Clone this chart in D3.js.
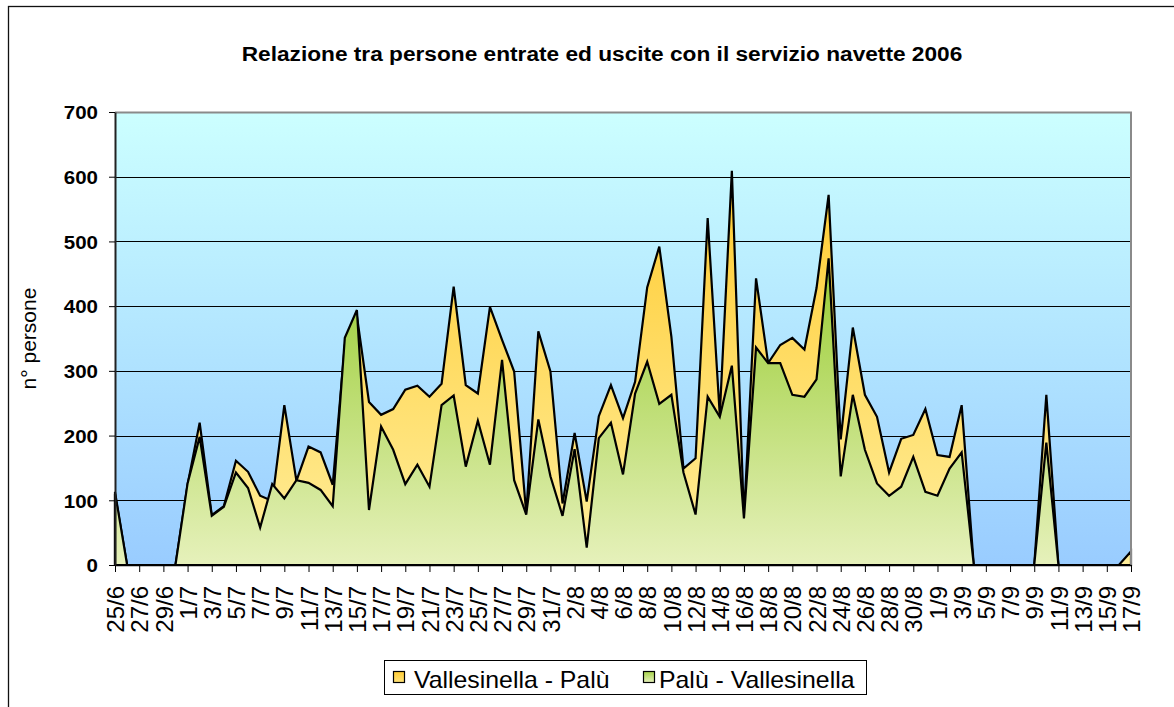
<!DOCTYPE html>
<html>
<head>
<meta charset="utf-8">
<script src="https://cdn.jsdelivr.net/npm/d3@7"></script>
<style>
  body { margin: 0; background: #fff; }
  text { font-family: "Liberation Sans", Arial, sans-serif; fill: #000; }
</style>
</head>
<body>
<div id="chart"></div>
<script>
/** DATA */
const dates = [
  "25/6","26/6","27/6","28/6","29/6","30/6",
  "1/7","2/7","3/7","4/7","5/7","6/7","7/7","8/7","9/7","10/7","11/7","12/7","13/7","14/7","15/7","16/7",
  "17/7","18/7","19/7","20/7","21/7","22/7","23/7","24/7","25/7","26/7","27/7","28/7","29/7","30/7","31/7",
  "1/8","2/8","3/8","4/8","5/8","6/8","7/8","8/8","9/8","10/8","11/8","12/8","13/8","14/8","15/8","16/8",
  "17/8","18/8","19/8","20/8","21/8","22/8","23/8","24/8","25/8","26/8","27/8","28/8","29/8","30/8","31/8",
  "1/9","2/9","3/9","4/9","5/9","6/9","7/9","8/9","9/9","10/9","11/9","12/9","13/9","14/9","15/9","16/9","17/9"
];

// Vallesinella - Palù (yellow, drawn first)
const vallesinellaPalu = [
  110, 0, 0, 0, 0, 0,
  124, 220, 77, 91, 161, 144, 107, 99, 247, 130, 183, 174, 124, 340, 385, 252,
  232, 241, 271, 277, 260, 280, 430, 278, 265, 399, 348, 299, 80, 361, 299,
  95, 204, 98, 230, 278, 227, 283, 429, 492, 353, 149, 165, 536, 232, 609, 72,
  443, 312, 340, 351, 333, 428, 572, 194, 367, 263, 229, 143, 195, 201, 241,
  170, 167, 247, 0, 0, 0, 0, 0, 0, 263, 0, 0, 0, 0, 0, 0, 21
];

// Palù - Vallesinella (green, drawn on top)
const paluVallesinella = [
  113, 0, 0, 0, 0, 0,
  126, 198, 76, 90, 143, 119, 58, 125, 103, 131, 127, 116, 91, 351, 394, 85,
  214, 178, 125, 155, 121, 247, 262, 152, 223, 155, 317, 131, 78, 225, 137,
  76, 179, 27, 196, 220, 140, 265, 314, 249, 263, 143, 78, 260, 229, 308, 72,
  336, 312, 312, 263, 260, 287, 474, 137, 263, 178, 126, 107, 121, 167, 113,
  107, 149, 174, 0, 0, 0, 0, 0, 0, 189, 0, 0, 0, 0, 0, 0, 0
];

const yTicks = [0, 100, 200, 300, 400, 500, 600, 700];
const seriesNames = ["Vallesinella - Palù", "Palù - Vallesinella"];

/** CONSTANTS */
const width = 1174,
  height = 707,
  margin = { top: 112, bottom: 142, left: 115, right: 43 },
  stretch = 1.08; // the picture is a bit wider than tall

const svg = d3.select("#chart")
  .append("svg")
  .attr("width", width)
  .attr("height", height);

/** SCALES */
const xScale = d3.scalePoint()
  .domain(dates)
  .range([margin.left, width - margin.right]);

const yScale = d3.scaleLinear()
  .domain([0, 700])
  .range([height - margin.bottom, margin.top]);

/** GRADIENTS */
const defs = svg.append("defs");

function gradient(id, x1, y1, x2, y2, stops, units) {
  const g = defs.append("linearGradient")
    .attr("id", id)
    .attr("x1", x1).attr("y1", y1).attr("x2", x2).attr("y2", y2);
  if (units) g.attr("gradientUnits", units);
  stops.forEach(s => g.append("stop").attr("offset", s[0]).attr("stop-color", s[1]));
}

gradient("bg", 0, 0, 0, 1, [[0, "#ccffff"], [1, "#99ccff"]]);
gradient("yellowFill", 0, yScale(d3.max(vallesinellaPalu)), 0, yScale(0),
  [[0, "#ffcb30"], [1, "#ffee9c"]], "userSpaceOnUse");
gradient("greenFill", 0, yScale(d3.max(paluVallesinella)), 0, yScale(0),
  [[0, "#99cc33"], [1, "#e6f1bb"]], "userSpaceOnUse");
gradient("yellowKey", 0, 0, 0, 1, [[0, "#ffcc33"], [1, "#ffe27a"]]);
gradient("greenKey", 0, 0, 0, 1, [[0, "#a6d24a"], [1, "#e6f1bb"]]);

// outer chart frame (runs off the right and bottom edges)
svg.append("rect")
  .attr("x", 8.5).attr("y", 6.5)
  .attr("width", 1300).attr("height", 900)
  .attr("fill", "none")
  .attr("stroke", "#111")
  .attr("stroke-width", 1.3);

/** PLOT AREA */
svg.append("rect")
  .attr("x", margin.left)
  .attr("y", margin.top)
  .attr("width", width - margin.right - margin.left)
  .attr("height", height - margin.bottom - margin.top)
  .attr("fill", "url(#bg)");

// gridlines
svg.append("g")
  .selectAll("line")
  .data(yTicks.filter(d => d > 0 && d < 700))
  .join("line")
  .attr("x1", margin.left)
  .attr("x2", width - margin.right)
  .attr("y1", d => Math.round(yScale(d)) + 0.5)
  .attr("y2", d => Math.round(yScale(d)) + 0.5)
  .attr("stroke", "#000")
  .attr("stroke-width", 1);

// areas: yellow first, green drawn over it
const area = d3.area()
  .x((d, i) => xScale(dates[i]))
  .y0(yScale(0))
  .y1(d => yScale(d));

svg.append("path")
  .datum(vallesinellaPalu)
  .attr("d", area)
  .attr("fill", "url(#yellowFill)")
  .attr("stroke", "#000")
  .attr("stroke-width", 2.2)
  .attr("stroke-linejoin", "miter");

svg.append("path")
  .datum(paluVallesinella)
  .attr("d", area)
  .attr("fill", "url(#greenFill)")
  .attr("stroke", "#000")
  .attr("stroke-width", 2.2)
  .attr("stroke-linejoin", "miter");

// top and right border of plot area
svg.append("path")
  .attr("d", `M${margin.left},${margin.top + 0.5}H${width - margin.right}V${height - margin.bottom}`)
  .attr("fill", "none")
  .attr("stroke", "#8a8a8a")
  .attr("stroke-width", 2);

/** AXES */
const xAxis = d3.axisBottom(xScale)
  .tickValues(dates.filter((d, i) => i % 2 === 0))
  .tickSize(7)
  .tickSizeOuter(0);

const gx = svg.append("g")
  .attr("transform", `translate(0,${height - margin.bottom})`)
  .call(xAxis);

gx.select(".domain").attr("stroke", "#000").attr("stroke-width", 1.5);
gx.selectAll(".tick line").attr("stroke", "#000");
gx.selectAll(".tick text")
  .attr("transform", "rotate(-90)")
  .attr("x", -21)
  .attr("y", 0)
  .attr("dy", "0.36em")
  .attr("text-anchor", "end")
  .style("font-size", "24px")
  .style("font-family", "'Liberation Sans', Arial, sans-serif");

const yAxis = d3.axisLeft(yScale)
  .tickValues(yTicks)
  .tickSize(6)
  .tickSizeOuter(0)
  .tickPadding(0);

const gy = svg.append("g")
  .attr("transform", `translate(${margin.left},0)`)
  .call(yAxis);

gy.select(".domain").attr("stroke", "#222").attr("stroke-width", 2);
gy.selectAll(".tick line").attr("stroke", "#000");
gy.selectAll(".tick text")
  .attr("x", 0)
  .attr("dy", "0.36em")
  .attr("transform", `translate(-17,0) scale(${stretch},1)`)
  .attr("text-anchor", "end")
  .style("font-size", "19px")
  .style("font-weight", "bold")
  .style("font-family", "'Liberation Sans', Arial, sans-serif");

// axis title
svg.append("text")
  .attr("transform", `translate(36,${(margin.top + height - margin.bottom) / 2}) rotate(-90)`)
  .attr("text-anchor", "middle")
  .style("font-size", "21px")
  .text("n° persone");

/** TITLE */
svg.append("text")
  .attr("transform", `translate(602,61) scale(${stretch},1)`)
  .attr("text-anchor", "middle")
  .style("font-size", "21px")
  .style("font-weight", "bold")
  .text("Relazione tra persone entrate ed uscite con il servizio navette 2006");

/** LEGEND */
const legend = svg.append("g");

legend.append("rect")
  .attr("x", 384.5).attr("y", 660.5)
  .attr("width", 482).attr("height", 34)
  .attr("fill", "#fff")
  .attr("stroke", "#000")
  .attr("stroke-width", 1);

const keys = [
  { name: seriesNames[0], fill: "url(#yellowKey)", box: 393, text: 414 },
  { name: seriesNames[1], fill: "url(#greenKey)", box: 643, text: 659 }
];

keys.forEach(k => {
  legend.append("rect")
    .attr("x", k.box + 0.5).attr("y", 671.5)
    .attr("width", 11).attr("height", 11)
    .attr("fill", k.fill)
    .attr("stroke", "#000")
    .attr("stroke-width", 1.2);
  legend.append("text")
    .attr("transform", `translate(${k.text},688) scale(${stretch},1)`)
    .style("font-size", "23px")
    .text(k.name);
});
</script>
</body>
</html>
